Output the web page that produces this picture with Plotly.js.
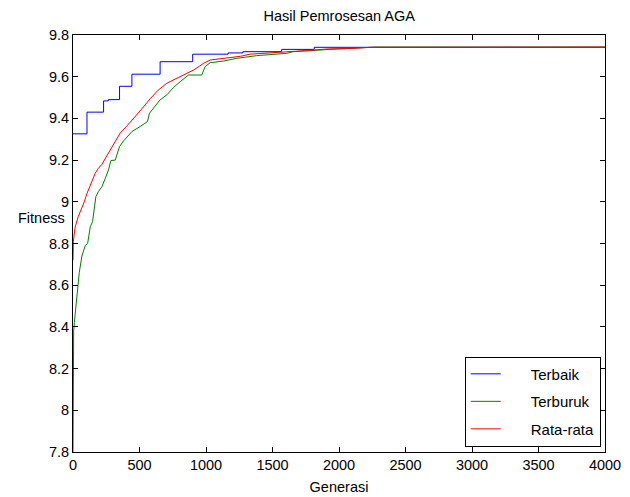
<!DOCTYPE html>
<html>
<head>
<meta charset="utf-8">
<script src="https://cdn.plot.ly/plotly-3.0.1.min.js"></script>
<style>html,body{margin:0;padding:0;background:#fff;}#chart{width:630px;height:497px;}</style>
</head>
<body>
<div id="chart"></div>
<script>
// Terbaik (best)
const genBest = [0, 105, 230, 265, 350, 443, 655, 900, 1166, 1277, 1569, 1814, 4000];
const best = [9.326, 9.43, 9.484, 9.49, 9.554, 9.612, 9.672, 9.708, 9.714, 9.72, 9.731, 9.741, 9.742];

// Terburuk (worst)
const genWorst = [0, 1, 5, 10, 22, 35, 47, 67, 92, 110, 130, 147, 155, 172, 192, 218, 243, 267, 285, 318, 330, 350, 380, 443, 505, 560, 575, 618, 655, 706, 755, 806, 868, 968, 993, 1031, 1131, 1231, 1331, 1381, 1606, 1656, 1931, 2281, 4000];
const worst = [7.8, 8.33, 8.38, 8.42, 8.50, 8.58, 8.66, 8.74, 8.79, 8.80, 8.88, 8.905, 8.953, 9.025, 9.05, 9.073, 9.113, 9.153, 9.198, 9.20, 9.225, 9.265, 9.292, 9.337, 9.361, 9.385, 9.425, 9.457, 9.489, 9.513, 9.548, 9.576, 9.608, 9.608, 9.648, 9.667, 9.675, 9.688, 9.696, 9.701, 9.712, 9.72, 9.731, 9.742, 9.742];

// Rata-rata (average)
const genAvg = [0, 3, 10, 17, 40, 67, 85, 105, 135, 167, 190, 218, 245, 267, 280, 320, 355, 400, 443, 510, 580, 640, 706, 760, 806, 860, 906, 950, 981, 1031, 1081, 1143, 1206, 1260, 1330, 1450, 1606, 1719, 1819, 1906, 2106, 2231, 4000];
const avg = [8.72, 8.81, 8.85, 8.88, 8.93, 8.97, 9.00, 9.04, 9.09, 9.137, 9.16, 9.18, 9.21, 9.235, 9.25, 9.295, 9.33, 9.36, 9.39, 9.44, 9.494, 9.535, 9.569, 9.585, 9.60, 9.618, 9.632, 9.65, 9.664, 9.68, 9.684, 9.688, 9.691, 9.698, 9.708, 9.714, 9.72, 9.724, 9.728, 9.733, 9.736, 9.741, 9.742];

const seriesNames = ['Terbaik', 'Terburuk', 'Rata-rata'];
const yTicks = [7.8, 8, 8.2, 8.4, 8.6, 8.8, 9, 9.2, 9.4, 9.6, 9.8];
const xTicks = [0, 500, 1000, 1500, 2000, 2500, 3000, 3500, 4000];

const font = {family: 'Liberation Sans, Arial, sans-serif', size: 14.5, color: '#000'};
const legendFont = {family: 'Liberation Sans, Arial, sans-serif', size: 15, color: '#000'};
const pad = '\u00a0\u00a0\u00a0\u00a0\u00a0\u00a0';

const traces = [
  {x: genBest, y: best, name: pad + seriesNames[0], legendgroup: 'a', mode: 'lines', line: {color: '#0000ff', width: 1, shape: 'hv'}},
  {x: genWorst, y: worst, name: pad + seriesNames[1], legendgroup: 'b', mode: 'lines', line: {color: '#008000', width: 1, shape: 'linear'}},
  {x: genAvg, y: avg, name: pad + seriesNames[2], legendgroup: 'c', mode: 'lines', line: {color: '#ff0000', width: 1, shape: 'linear'}}
];

const axisCommon = {
  showline: true, linecolor: '#000', linewidth: 1, mirror: 'ticks',
  ticks: 'inside', ticklen: 5, tickcolor: '#000', tickwidth: 1,
  showgrid: false, zeroline: false, tickfont: font
};

const layout = {
  width: 630, height: 497,
  margin: {l: 73, r: 25, t: 35, b: 44.5},
  paper_bgcolor: '#fff', plot_bgcolor: '#fff',
  font: font,
  title: {text: 'Hasil Pemrosesan AGA', font: font, x: 0.5385, xanchor: 'center', y: 0.968, yanchor: 'middle'},
  xaxis: Object.assign({}, axisCommon, {range: [0, 4000], tickvals: xTicks, ticktext: xTicks.map(String),
    title: {text: 'Generasi', font: font, standoff: 9}}),
  yaxis: Object.assign({}, axisCommon, {range: [7.8, 9.8], tickvals: yTicks, ticktext: yTicks.map(v => String(v)), ticklabelstandoff: 0}),
  showlegend: true,
  legend: {x: 0.992, y: 0.013, xanchor: 'right', yanchor: 'bottom', bgcolor: '#fff', bordercolor: '#000', borderwidth: 1,
    font: legendFont, traceorder: 'grouped', tracegroupgap: 5},
  annotations: [{text: 'Fitness', xref: 'paper', yref: 'paper', x: 0, y: 0.56, xanchor: 'right', yanchor: 'middle', xshift: -6, showarrow: false, font: font}]
};

Plotly.newPlot('chart', traces, layout, {displayModeBar: false, staticPlot: true});
</script>
</body>
</html>
